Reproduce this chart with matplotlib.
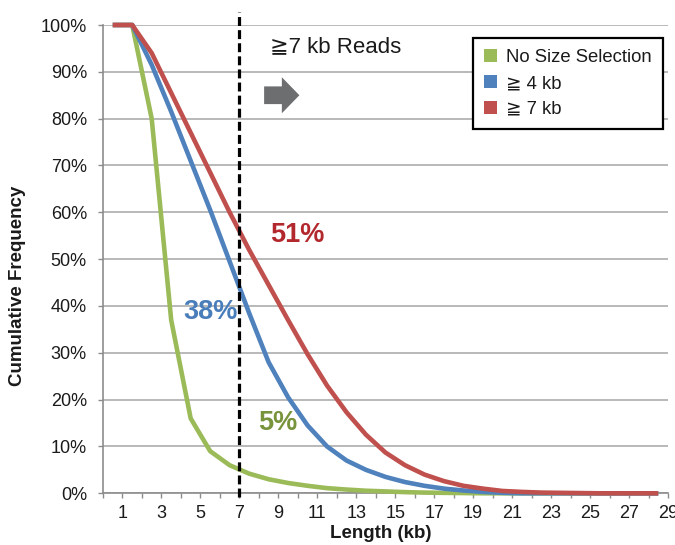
"""
plot.py - cumulative read length distribution, size selection comparison
"""

import matplotlib
matplotlib.use('Agg')
import matplotlib.pyplot as plt
from matplotlib.patches import Patch

# bin midpoints (kb)
LENGTH_KB = [0.5, 1.5, 2.5, 3.5, 4.5, 5.5, 6.5, 7.5, 8.5, 9.5,
             10.5, 11.5, 12.5, 13.5, 14.5, 15.5, 16.5, 17.5, 18.5, 19.5,
             20.5, 21.5, 22.5, 23.5, 24.5, 25.5, 26.5, 27.5, 28.5]

NO_SELECTION = [100, 100, 80, 37, 16, 9, 6.0, 4.2, 3.0, 2.2,
                1.6, 1.1, 0.8, 0.55, 0.4, 0.25, 0.15, 0.1, 0.05, 0,
                0, 0, 0, 0, 0, 0, 0, 0, 0]
SEL_4KB = [100, 100, 91.5, 81.5, 71, 60.5, 49.5, 38.5, 28, 20.5,
           14.5, 10, 7, 5, 3.5, 2.4, 1.6, 1.0, 0.6, 0.3,
           0.1, 0, 0, 0, 0, 0, 0, 0, 0]
SEL_7KB = [100, 100, 94, 85.5, 77, 68.5, 60, 52, 44.5, 37,
           29.7, 23, 17.3, 12.5, 8.7, 6, 4, 2.6, 1.6, 1.0,
           0.5, 0.3, 0.15, 0.1, 0.05, 0, 0, 0, 0]

SERIES_LABELS = ['No Size Selection', '\u2267 4 kb', '\u2267 7 kb']
Y_TICKS = list(range(0, 101, 10))
X_TICKS = list(range(0, 30))
CUTOFF_KB = 7

GREEN = '#9BBB59'
BLUE = '#4F81BD'
RED = '#C0504D'
AXIS = '#8C8C8C'
GRID = '#A6A6A6'
ARROW = '#6D6E70'
TXT = '#1a1a1a'
FONT = ['Liberation Sans', 'DejaVu Sans']

plt.rcParams['font.family'] = FONT


def make_plot():
    fig = plt.figure(figsize=(6.75, 5.45), dpi=100)
    ax = fig.add_axes([103 / 675, 1 - 493.3 / 545, 565 / 675, 468.3 / 545])

    for vals, col, z in [(NO_SELECTION, GREEN, 3), (SEL_4KB, BLUE, 4), (SEL_7KB, RED, 5)]:
        ax.plot(LENGTH_KB, vals, color=col, lw=3.3, zorder=z,
                solid_joinstyle='round', solid_capstyle='butt', clip_on=False)

    # cut-off line
    ax.plot([CUTOFF_KB, CUTOFF_KB], [-0.8, 102.8], color='black', lw=2.3,
            dashes=(2.8, 1.3), zorder=6, clip_on=False)

    ax.set_xlim(0, 29)
    ax.set_ylim(0, 100)
    ax.set_yticks(Y_TICKS)
    ax.set_yticklabels([f'{v}%' for v in Y_TICKS], fontsize=13)
    ax.set_xticks(X_TICKS)
    ax.set_xticklabels([str(v) if v % 2 == 1 else '' for v in X_TICKS], fontsize=13)
    ax.tick_params(axis='y', colors=AXIS, labelcolor=TXT, length=3.6,
                   width=1, pad=8)
    ax.tick_params(axis='x', colors=AXIS, labelcolor=TXT, length=3.6,
                   width=1, pad=5)

    for sp in ['top', 'right']:
        ax.spines[sp].set_visible(False)
    for sp in ['bottom', 'left']:
        ax.spines[sp].set_color(AXIS)
        ax.spines[sp].set_linewidth(1.2)
    ax.yaxis.grid(True, color=GRID, lw=1.1, zorder=0)
    ax.set_axisbelow(True)

    # annotations
    ax.text(8.57, 95.3, '\u22677 kb Reads', fontsize=16, va='center', ha='left',
            color=TXT)
    ax.arrow(8.27, 85.0, 1.81, 0, width=3.78, head_width=7.69, head_length=0.9,
             length_includes_head=True, color=ARROW, lw=0, zorder=6)
    ax.text(9.96, 55.2, '51%', fontsize=19.5, fontweight='bold', color='#B3282D',
            ha='center', va='center', zorder=7)
    ax.text(5.54, 38.7, '38%', fontsize=19.5, fontweight='bold', color='#4A7EBB',
            ha='center', va='center', zorder=7)
    ax.text(8.96, 15.0, '5%', fontsize=19.5, fontweight='bold', color='#77933C',
            ha='center', va='center', zorder=7)

    handles = [Patch(facecolor=c, edgecolor='none') for c in (GREEN, BLUE, RED)]
    leg = ax.legend(handles, SERIES_LABELS, loc='upper right',
                    bbox_to_anchor=(0.991, 0.972), borderaxespad=0,
                    fontsize=13.3, fancybox=False, framealpha=1,
                    handlelength=0.7, handleheight=0.7, handletextpad=0.5,
                    labelspacing=0.48, borderpad=0.6)
    leg.get_frame().set_edgecolor('black')
    leg.get_frame().set_linewidth(1.6)
    leg.set_zorder(10)
    for t in leg.get_texts():
        t.set_color(TXT)

    fig.text(18 / 675, 1 - 286 / 545, 'Cumulative Frequency', rotation=90,
             fontsize=13.5, fontweight='bold', ha='center', va='center', color=TXT)
    fig.text(381 / 675, 1 - 538.5 / 545, 'Length (kb)', fontsize=13.5,
             fontweight='bold', ha='center', va='baseline', color=TXT)

    fig.savefig('out.png', dpi=100)
    plt.close(fig)


if __name__ == '__main__':
    make_plot()
